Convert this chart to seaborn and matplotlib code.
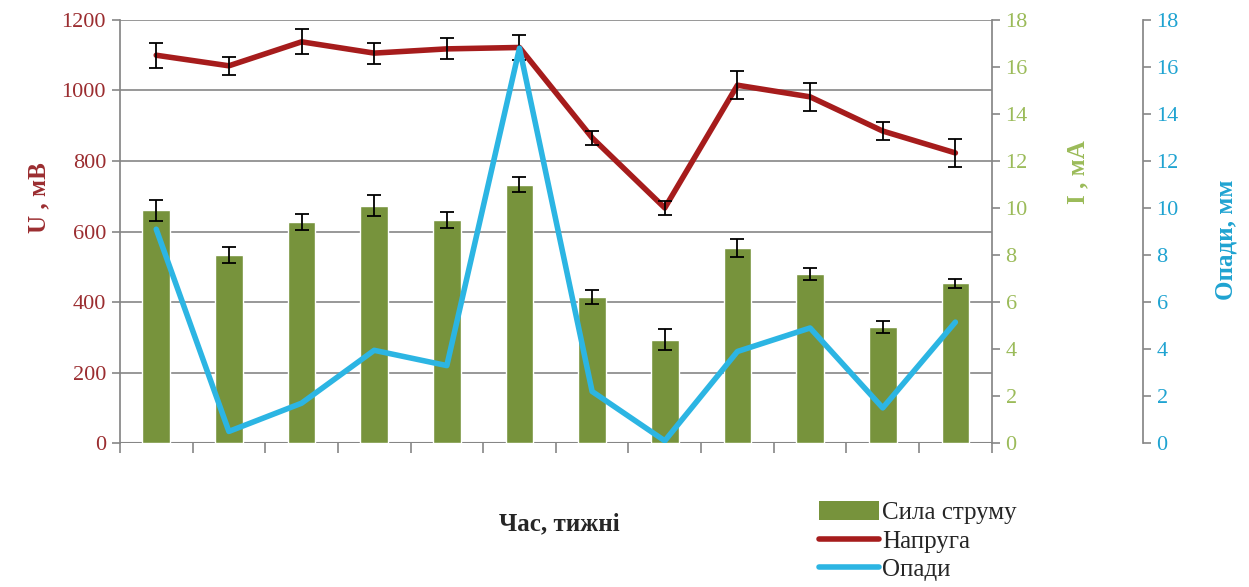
import numpy as np
import pandas as pd
import matplotlib
matplotlib.use("Agg")
import matplotlib.pyplot as plt
import seaborn as sns
from matplotlib.patches import Patch
from matplotlib.lines import Line2D

# data
weeks = ["1", "2", "3", "4", "5", "6", "7", "8", "9", "10", "11", "12"]
voltage = [1100, 1070, 1138, 1106, 1118, 1122, 866, 667, 1015, 982, 885, 823]      # U, мВ
voltage_err = [35, 25, 35, 30, 30, 35, 20, 20, 40, 40, 25, 40]
current = [9.9, 8.0, 9.4, 10.1, 9.5, 11.0, 6.2, 4.4, 8.3, 7.2, 4.95, 6.8]           # I, мА
current_err = [0.45, 0.35, 0.35, 0.45, 0.35, 0.3, 0.3, 0.45, 0.4, 0.25, 0.25, 0.2]
rain = [9.1, 0.5, 1.7, 3.95, 3.3, 16.8, 2.2, 0.1, 3.9, 4.9, 1.5, 5.15]             # Опади, мм

df = pd.DataFrame({"week": weeks, "U": voltage, "U_err": voltage_err,
                   "I": current, "I_err": current_err, "rain": rain})
df["pos"] = np.arange(len(weeks))

# colours
red = "#A61C1C"
green = "#77933C"
blue = "#2CB5E3"
red_txt = "#9B2D30"
green_txt = "#9BBB59"
blue_txt = "#1FA3D1"
axis_grey = "#868686"

sns.set_theme(style="white")
plt.rcParams["font.family"] = ["Liberation Serif", "DejaVu Serif"]

fig = plt.figure(figsize=(12.49, 5.87), dpi=100)
ax1 = fig.add_axes([0.096, 0.245, 0.698, 0.721])
ax2 = ax1.twinx()
ax3 = ax1.twinx()

# bars: current (green axis)
sns.barplot(data=df, x="pos", y="I", ax=ax2, color=green, saturation=1,
            width=0.38, errorbar=None, native_scale=True, zorder=2)
ax2.errorbar(df["pos"], df["I"], yerr=df["I_err"], fmt="none", ecolor="black",
             elinewidth=1.3, capsize=5, capthick=1.3, zorder=3)

# voltage line (left axis)
sns.lineplot(data=df, x="pos", y="U", ax=ax1, color=red, linewidth=4, zorder=3)
ax1.errorbar(df["pos"], df["U"], yerr=df["U_err"], fmt="none", ecolor="black",
             elinewidth=1.3, capsize=5, capthick=1.3, zorder=4)

# rainfall line (third axis)
sns.lineplot(data=df, x="pos", y="rain", ax=ax3, color=blue, linewidth=4, zorder=3)

for a in (ax1, ax2, ax3):
    a.set_xlim(-0.5, 11.5)
    a.set_xlabel("")

ax1.set_ylim(0, 1200)
ax1.set_yticks(range(0, 1201, 200))
ax2.set_ylim(0, 18)
ax2.set_yticks(range(0, 19, 2))
ax3.set_ylim(0, 18)
ax3.set_yticks(range(0, 19, 2))

# grid and frame
ax1.yaxis.grid(True, color=axis_grey, linewidth=1.2)
ax1.set_axisbelow(True)
for s in ("top", "bottom"):
    ax1.spines[s].set_visible(False)
    ax2.spines[s].set_visible(False)
    ax3.spines[s].set_visible(False)
ax1.spines["left"].set_color(axis_grey)
ax1.spines["right"].set_visible(False)
ax2.spines["left"].set_visible(False)
ax2.spines["right"].set_color(axis_grey)
ax3.spines["left"].set_visible(False)
ax3.spines["right"].set_color(axis_grey)
ax3.spines["right"].set_position(("outward", 151 * 0.72))
ax1.axhline(0, color=axis_grey, linewidth=1.5, zorder=1)

# x ticks: labels at centres, tick marks at boundaries
ax1.set_xticks(df["pos"])
ax1.set_xticklabels(weeks, fontsize=15, color="black")
ax1.set_xticks(np.arange(-0.5, 12, 1), minor=True)
ax1.tick_params(axis="x", which="major", length=0, pad=6)
ax1.tick_params(axis="x", which="minor", length=7, color=axis_grey, width=1.2,
                direction="out", bottom=True)
ax2.set_xticks([])
ax3.set_xticks([])

ax1.tick_params(axis="y", labelsize=16, labelcolor=red_txt, length=6,
                color=axis_grey, width=1.2, left=True, direction="out", pad=4)
ax2.tick_params(axis="y", labelsize=16, labelcolor=green_txt, length=6,
                color=axis_grey, width=1.2, right=True, direction="out", pad=4)
ax3.tick_params(axis="y", labelsize=16, labelcolor=blue_txt, length=6,
                color=axis_grey, width=1.2, right=True, direction="out", pad=4)

ax1.set_ylabel("U , мВ", fontsize=18, fontweight="bold", color=red_txt)
ax1.yaxis.set_label_coords(-0.08, 0.58)
ax2.set_ylabel("I , мА", fontsize=18, fontweight="bold", color=green_txt, rotation=90)
ax2.yaxis.set_label_coords(1.086, 0.64)
ax3.set_ylabel("Опади, мм", fontsize=18, fontweight="bold", color=blue_txt, rotation=90)
ax3.yaxis.set_label_coords(1.256, 0.48)

fig.text(0.448, 0.108, "Час, тижні", fontsize=18, fontweight="bold",
         ha="center", va="center")

handles = [Patch(facecolor=green, edgecolor="none"),
           Line2D([], [], color=red, linewidth=4),
           Line2D([], [], color=blue, linewidth=4)]
fig.legend(handles, ["Сила струму", "Напруга", "Опади"],
           loc="upper left", bbox_to_anchor=(0.656, 0.146), frameon=False,
           fontsize=18, handlelength=2.4, handleheight=0.75, handletextpad=0.1,
           labelspacing=0.22, borderaxespad=0, borderpad=0)

fig.savefig("out.png", dpi=100, facecolor="white")
